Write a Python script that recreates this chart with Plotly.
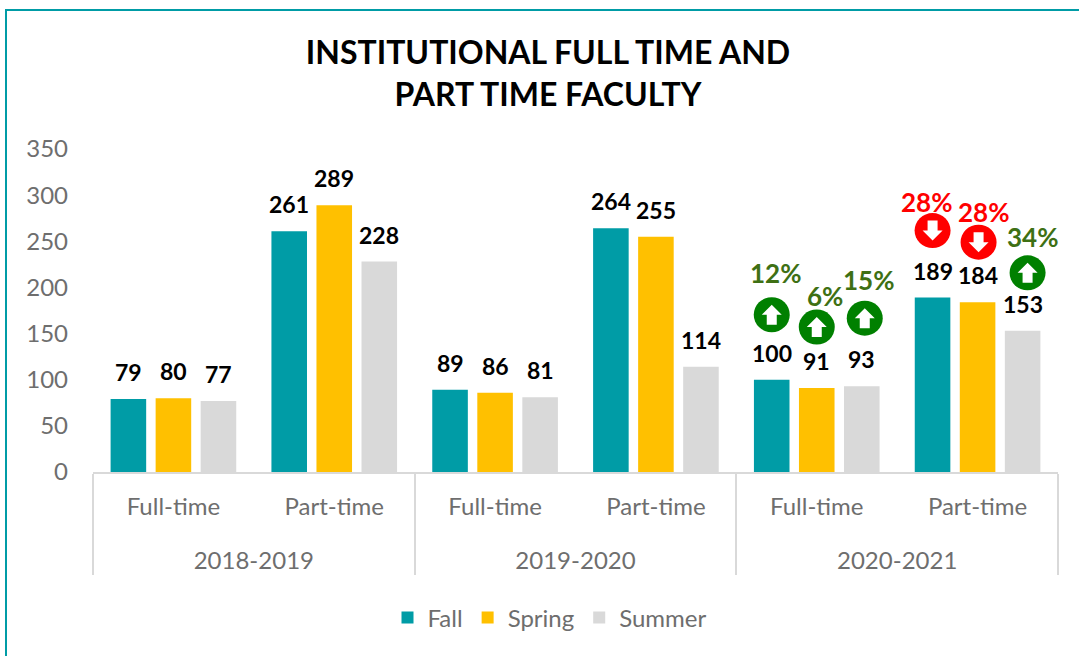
import plotly.graph_objects as go

W, H = 1079, 656
years = ["2018-2019", "2019-2020", "2020-2021"]
kinds = ["Full-time", "Part-time"]
level1 = [y for y in years for _ in kinds]
level2 = [k + "<br><span style='font-size:40px'>&nbsp;</span>" for k in kinds] * 3
fall = [79, 261, 89, 264, 100, 189]
spring = [80, 289, 86, 255, 91, 184]
summer = [77, 228, 81, 114, 93, 153]
series_names = ["Fall", "Spring", "Summer"]
series_colors = ["#009CA6", "#FFC000", "#D9D9D9"]
title_text = "INSTITUTIONAL FULL TIME AND<br>PART TIME FACULTY"
change_labels = ["12%", "6%", "15%", "28%", "28%", "34%"]
change_dirs = ["up", "up", "up", "down", "down", "up"]

label_font = "Lato"
axis_font = "Lato"
TEAL = "#009CA6"
L, R, T, B = 93, 1058, 149, 472
STEP = 45 / ((R - L) / 6)


def px(v):
    return (v - L) / (R - L)


def py(v):
    return (B - v) / (B - T)


fig = go.Figure()
for name, color, vals in zip(series_names, series_colors, [fall, spring, summer]):
    fig.add_trace(go.Bar(name=name, x=[level1, level2], y=vals, marker_color=color, marker_line_width=0))

annotations = []
shapes = []
for s, vals in enumerate([fall, spring, summer]):
    for i, v in enumerate(vals):
        annotations.append(dict(x=i + (s - 1) * STEP, y=v, xref="x2", yref="y", text=f"<b>{v}</b>",
                                showarrow=False, yshift=27, xanchor="center", yanchor="middle",
                                font=dict(family=label_font, size=23, color="#000000")))

idx = [4, 4, 4, 5, 5, 5]
ser = [0, 1, 2, 0, 1, 2]
vals_badge = [fall[4], spring[4], summer[4], fall[5], spring[5], summer[5]]
circle_dx = [0, 0, 3, 0, 1, 5]
circle_dy = [65, 61, 68, 67, 60, 58]
text_dx = [4, 8, 7, -6, 6, 10]
text_dy = [107, 92, 106, 96, 90, 94]
for i in range(6):
    xa = idx[i] + (ser[i] - 1) * STEP
    up = change_dirs[i] == "up"
    col = "#008000" if up else "#FF0000"
    cx, cy = circle_dx[i], circle_dy[i]
    shapes.append(dict(type="circle", xref="x2", yref="y", xsizemode="pixel", ysizemode="pixel",
                       xanchor=xa, yanchor=vals_badge[i],
                       x0=cx - 18, x1=cx + 18, y0=cy - 17.5, y1=cy + 17.5,
                       fillcolor=col, line_width=0, layer="above"))
    if up:
        path = f"M {cx} {cy+10} L {cx+10} {cy} L {cx+5} {cy} L {cx+5} {cy-10} L {cx-5} {cy-10} L {cx-5} {cy} L {cx-10} {cy} Z"
    else:
        path = f"M {cx} {cy-10} L {cx+10} {cy} L {cx+5} {cy} L {cx+5} {cy+10} L {cx-5} {cy+10} L {cx-5} {cy} L {cx-10} {cy} Z"
    shapes.append(dict(type="path", xref="x2", yref="y", xsizemode="pixel", ysizemode="pixel",
                       xanchor=xa, yanchor=vals_badge[i], path=path,
                       fillcolor="#FFFFFF", line_width=0, layer="above"))
    annotations.append(dict(x=xa, y=vals_badge[i], xref="x2", yref="y", text=f"<b>{change_labels[i]}</b>",
                            showarrow=False, xshift=text_dx[i], yshift=text_dy[i],
                            xanchor="center", yanchor="middle",
                            font=dict(family=label_font, size=26, color="#3E7014" if up else "#FF0000")))

shapes.append(dict(type="line", xref="paper", yref="paper", x0=px(6), x1=px(6), y0=py(H), y1=py(10),
                   line=dict(color=TEAL, width=2)))
shapes.append(dict(type="line", xref="paper", yref="paper", x0=px(5), x1=px(W), y0=py(10), y1=py(10),
                   line=dict(color=TEAL, width=2)))

fig.update_layout(
    width=W, height=H, autosize=False,
    margin=dict(l=L, r=W - R, t=T, b=H - B, pad=0),
    paper_bgcolor="#FFFFFF", plot_bgcolor="#FFFFFF",
    barmode="group", bargap=0.16, bargroupgap=0.21,
    title=dict(text=f"<b>{title_text}</b>", x=548 / W, y=1 - 64 / H, xanchor="center", yanchor="middle",
               automargin=False, font=dict(family=label_font, size=32, color="#000000")),
    xaxis=dict(anchor="y", automargin=False, showgrid=False, showline=True,
               linecolor="#D9D9D9", linewidth=2, ticks="", ticklabelstandoff=12,
               showdividers=True, dividercolor="#D9D9D9", dividerwidth=2,
               tickfont=dict(family=axis_font, size=24, color="#6E6E6E")),
    xaxis2=dict(range=[-0.5, 5.5], overlaying="x", anchor="y", visible=False, automargin=False),
    yaxis=dict(range=[0, 350], dtick=50, automargin=False, showgrid=False,
               zeroline=False, showline=False, ticks="", ticklabelstandoff=24,
               tickfont=dict(family=axis_font, size=24, color="#6E6E6E")),
    legend=dict(orientation="h", x=px(550), y=py(618),
                xanchor="center", yanchor="middle",
                font=dict(family=axis_font, size=24, color="#6E6E6E"), itemclick=False, itemdoubleclick=False),
    annotations=annotations, shapes=shapes,
)
fig.write_html("out.html", config=dict(displayModeBar=False),
               post_script="document.body.style.margin='0';document.body.style.overflow='hidden';")
